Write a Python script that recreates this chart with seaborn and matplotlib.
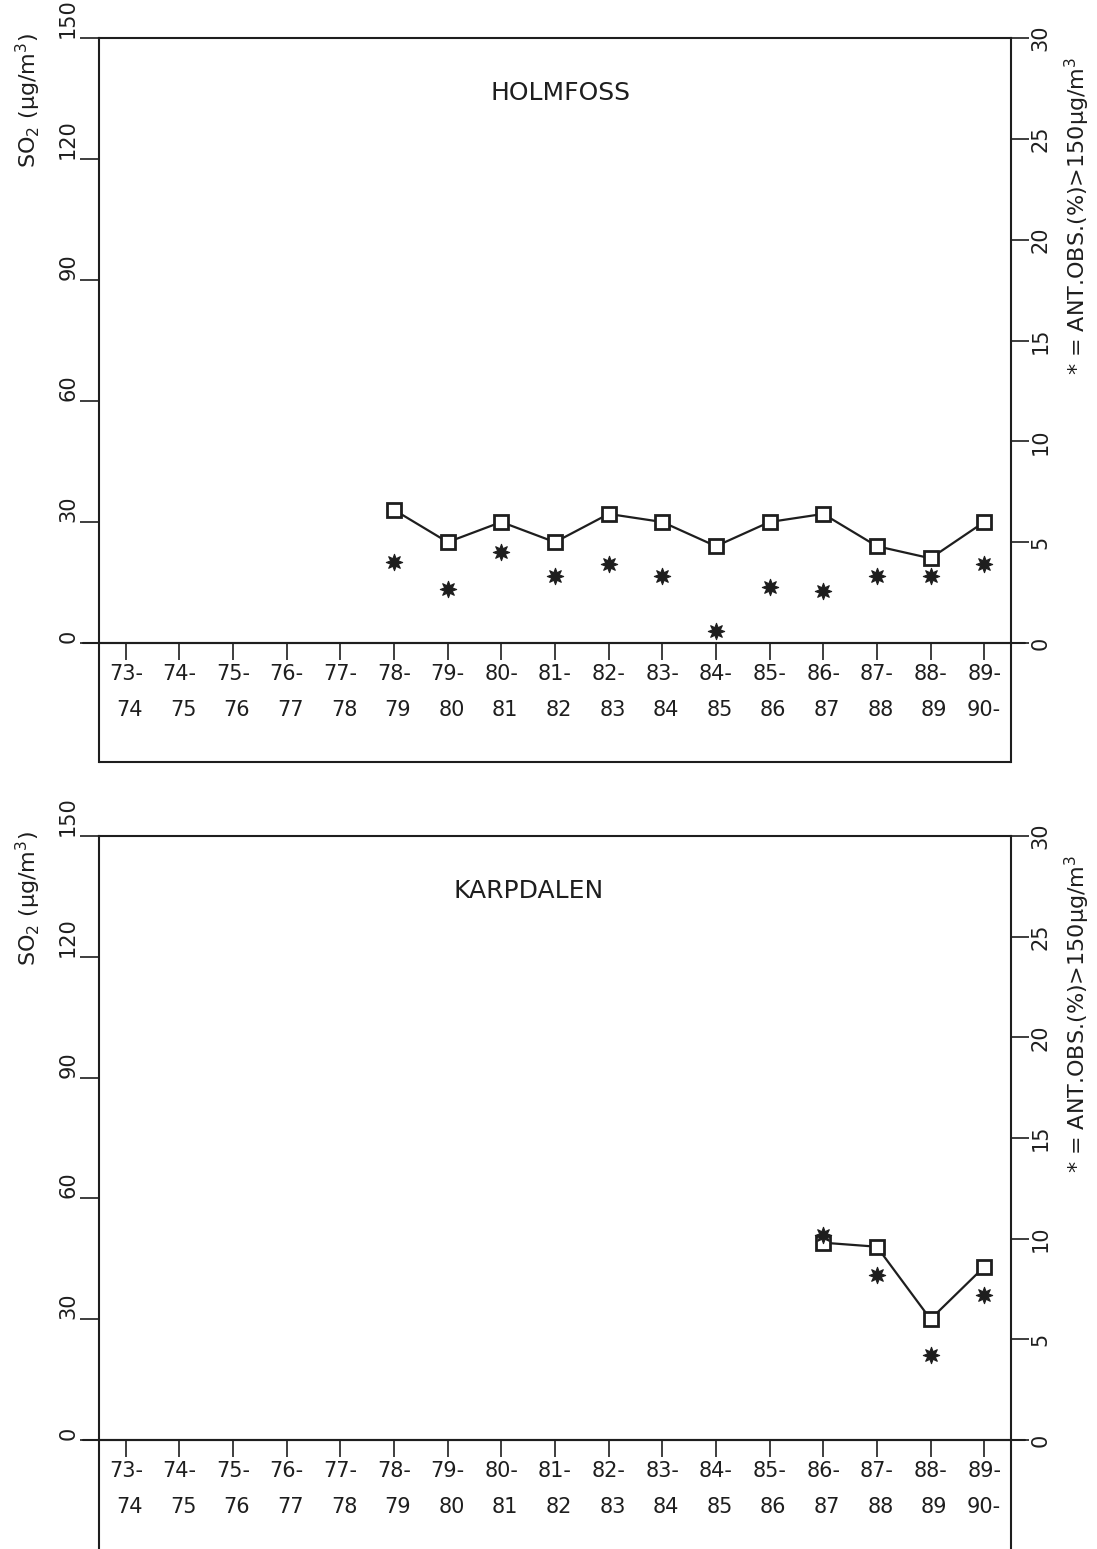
import numpy as np
import pandas as pd
import matplotlib
matplotlib.use("Agg")
import matplotlib.pyplot as plt
import matplotlib.transforms as mtransforms
import seaborn as sns

# ---------------- data ----------------
season_start = ["73-", "74-", "75-", "76-", "77-", "78-", "79-", "80-", "81-",
                "82-", "83-", "84-", "85-", "86-", "87-", "88-", "89-"]
season_end = ["74", "75", "76", "77", "78", "79", "80", "81", "82",
              "83", "84", "85", "86", "87", "88", "89", "90-"]

holm_idx = [5, 6, 7, 8, 9, 10, 11, 12, 13, 14, 15, 16]
holm_so2 = [33, 25, 30, 25, 32, 30, 24, 30, 32, 24, 21, 30]
holm_pct = [4.0, 2.7, 4.5, 3.3, 3.9, 3.3, 0.6, 2.8, 2.6, 3.3, 3.3, 3.9]

karp_idx = [13, 14, 15, 16]
karp_so2 = [49, 48, 30, 43]
karp_pct = [10.2, 8.2, 4.2, 7.2]

left_ticks = [0, 30, 60, 90, 120, 150]
right_ticks = [0, 5, 10, 15, 20, 25, 30]

# ---------------- style ----------------
sns.set_theme(style="white")
plt.rcParams["font.family"] = ["DejaVu Sans"]
INK = "#1e1e1e"
W, H = 1097, 1549
fig = plt.figure(figsize=(W / 100, H / 100), dpi=100)
fig.patch.set_facecolor("white")

FS = 15


def panel(top_px, zero_px, box_px, idx, so2, pct, title, title_x, draw_box_bottom):
    left_px, right_px = 99, 1011
    span = zero_px - top_px
    ylo = -(box_px - zero_px) / span * 150
    ax = fig.add_axes([left_px / W, 1 - box_px / H, (right_px - left_px) / W,
                       (box_px - top_px) / H])
    ax.set_facecolor("none")
    ax.set_xlim(-0.5, 16.5)
    ax.set_ylim(ylo, 150)

    df = pd.DataFrame({"x": idx, "so2": so2, "pct": pct})
    sns.lineplot(data=df, x="x", y="so2", ax=ax, color=INK, linewidth=1.6,
                 marker="s", markersize=10, markerfacecolor="white",
                 markeredgecolor=INK, markeredgewidth=2.0, zorder=3)

    ax2 = ax.twinx()
    ax2.set_ylim(ylo / 5, 30)
    ax2.set_xlim(-0.5, 16.5)
    sns.scatterplot(data=df, x="x", y="pct", ax=ax2, marker=(8, 1, 0), s=140,
                    color=INK, edgecolor=INK, linewidth=0.8, zorder=4)

    for sp in ["left", "top"]:
        ax.spines[sp].set_color(INK)
        ax.spines[sp].set_linewidth(1.5)
    ax.spines["right"].set_visible(False)
    ax.spines["bottom"].set_position(("data", 0))
    ax.spines["bottom"].set_color(INK)
    ax.spines["bottom"].set_linewidth(1.5)
    for sp in ["left", "top", "bottom"]:
        ax2.spines[sp].set_visible(False)
    ax2.spines["right"].set_color(INK)
    ax2.spines["right"].set_linewidth(1.5)

    # x-axis line slightly extended beyond the frame
    trans = mtransforms.blended_transform_factory(ax.transAxes, ax.transData)
    ax.plot([-0.018, 1.015], [0, 0], transform=trans, color=INK, lw=1.5, clip_on=False)
    if draw_box_bottom:
        ax.plot([0, 1], [0, 0], transform=ax.transAxes, color=INK, lw=1.5, clip_on=False)

    ax.set_xticks(range(len(season_start)))
    ax.set_xticklabels([f"{a}\n{b}" for a, b in zip(season_start, season_end)])
    ax.tick_params(axis="x", direction="out", length=12, width=1.2, color=INK,
                   pad=3, labelsize=FS, labelcolor=INK, bottom=True)
    for lab in ax.get_xticklabels():
        lab.set_linespacing(2.0)
        lab.set_multialignment("right")

    ax.set_yticks(left_ticks)
    ax.set_yticklabels([str(v) for v in left_ticks], rotation=90, va="bottom")
    ax.tick_params(axis="y", direction="out", length=14, width=1.2, color=INK,
                   pad=1, labelsize=FS, labelcolor=INK, left=True)

    ax2.set_yticks(right_ticks)
    ax2.set_yticklabels([str(v) for v in right_ticks], rotation=90, va="center")
    ax2.tick_params(axis="y", direction="out", length=13, width=1.2, color=INK,
                    pad=1, labelsize=FS, labelcolor=INK, right=True)
    ax2.tick_params(axis="x", bottom=False, labelbottom=False)
    ax.set_xlabel("")
    ax.set_ylabel("")
    ax2.set_xlabel("")
    ax2.set_ylabel("")

    ax.text(title_x, 150 - 55 / span * 150, title, ha="center", va="center",
            fontsize=18, color=INK)

    # axis labels
    fig.text(28 / W, 1 - (top_px + 62) / H, r"SO$_2$ (µg/m$^3$)", rotation=90,
             ha="center", va="center", fontsize=FS + 1, color=INK)
    fig.text(1077 / W, 1 - (top_px + 178) / H, r"* = ANT.OBS.(%)>150µg/m$^3$",
             rotation=90, ha="center", va="center", fontsize=FS + 1, color=INK)
    return ax, ax2


panel(38, 643, 762, holm_idx, holm_so2, holm_pct, "HOLMFOSS", 8.1, True)
panel(836, 1440, 1560, karp_idx, karp_so2, karp_pct, "KARPDALEN", 7.5, False)

fig.savefig("out.png", dpi=100, facecolor="white")
